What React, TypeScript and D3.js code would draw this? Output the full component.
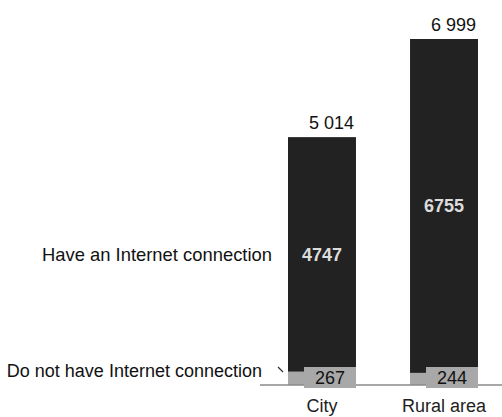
import React from "react";
import * as d3 from "d3";

const categories = ["City", "Rural area"];
const withInternet = [4747, 6755];
const withoutInternet = [267, 244];
const totals = ["5 014", "6 999"];
const seriesLabels = ["Have an Internet connection", "Do not have Internet connection"];

const W = 502;
const H = 417;
const FONT = "'Liberation Sans', Arial, Helvetica, sans-serif";

export default function App() {
  const x = d3.scaleBand<string>().domain(categories).range([288, 478]).paddingInner(0.443).paddingOuter(0);
  const y = d3.scaleLinear().domain([0, 6999]).range([385, 39]);
  const bw = x.bandwidth();
  const base = y(0);
  const boxW = 52;

  return (
    <svg width={W} height={H} style={{ position: "absolute", left: 0, top: 0, fontFamily: FONT }}>
      <rect x={0} y={0} width={W} height={H} fill="#fff" />
      {categories.map((c, i) => {
        const x0 = x(c) as number;
        const yGrayTop = y(withoutInternet[i]);
        const yTop = y(withoutInternet[i] + withInternet[i]);
        const darkMid = (yTop + yGrayTop) / 2;
        return (
          <g key={c}>
            <rect x={x0} y={yTop} width={bw} height={yGrayTop - yTop} fill="#222222" />
            <rect x={x0} y={yGrayTop} width={bw} height={base - yGrayTop} fill="#a8a8a8" />
            <text x={x0 + bw / 2} y={darkMid} dy="0.36em" textAnchor="middle" fontSize={18} fontWeight="bold" fill="#dcdcdc">
              {withInternet[i]}
            </text>
            <text x={x0 + bw - 2} y={yTop - 8} textAnchor="end" fontSize={18} fill="#111">
              {totals[i]}
            </text>
            <text x={x0 + bw / 2} y={412} textAnchor="middle" fontSize={18} fill="#222">
              {c}
            </text>
          </g>
        );
      })}
      <line x1={260} x2={W} y1={base} y2={base} stroke="#8a8a8a" strokeWidth={1.5} />
      {categories.map((c, i) => {
        const x0 = x(c) as number;
        return (
          <g key={c + "box"}>
            <rect x={x0 + bw - boxW} y={base - 18} width={boxW} height={21} fill="#a8a8a8" />
            <text x={x0 + bw - boxW / 2} y={base - 7.5} dy="0.36em" textAnchor="middle" fontSize={18} fill="#111">
              {withoutInternet[i]}
            </text>
          </g>
        );
      })}
      <text x={272} y={(y(withoutInternet[0] + withInternet[0]) + y(withoutInternet[0])) / 2} dy="0.36em" textAnchor="end" fontSize={18.4} fill="#111">
        {seriesLabels[0]}
      </text>
      <text x={262} y={377} textAnchor="end" fontSize={18} fill="#111">
        {seriesLabels[1]}
      </text>
      <line x1={278} y1={367} x2={283} y2={372} stroke="#333" strokeWidth={1.2} />
    </svg>
  );
}
